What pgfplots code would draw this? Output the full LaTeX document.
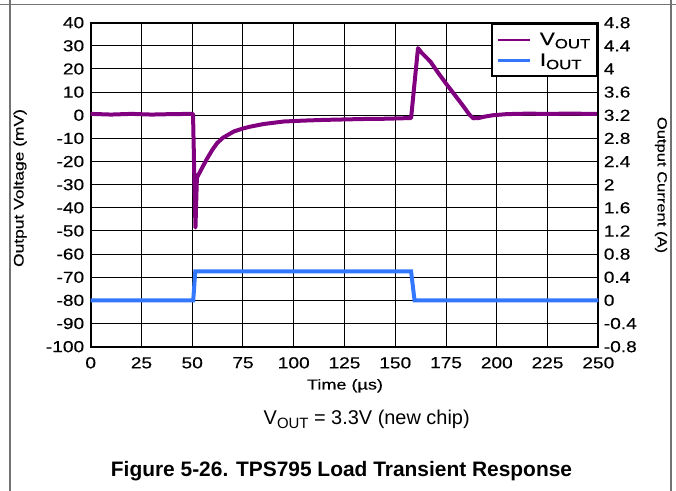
\documentclass[border=0pt]{standalone}
\usepackage{fontspec}
\setmainfont{Liberation Sans}
\newfontfamily\wide[FakeStretch=1.2, FakeBold=0.3]{Liberation Sans}
\newfontfamily\wider[FakeStretch=1.25, FakeBold=0.3]{Liberation Sans}
\usepackage{pgfplots}
\pgfplotsset{compat=1.18}

\definecolor{vpurple}{RGB}{128,0,128}
\definecolor{iblue}{RGB}{51,119,255}

\newcommand{\sub}[1]{\raisebox{-0.35ex}{\fontsize{13.5}{13.5}\selectfont #1}}

\pgfplotsset{
  common/.style={
    at={(90.7bp,144.3bp)}, anchor=south west,
    scale only axis, width=507.6bp, height=324bp,
    xmin=0, xmax=250,
    tick style={draw=none},
    axis line style={line width=2bp},
    tick label style={font=\wide\fontsize{16}{16}\selectfont},
    /pgf/number format/assume math mode=true,
  },
}

\begin{document}
\begin{tikzpicture}
  \path[use as bounding box] (0,0) rectangle (676bp,491bp);
  % outer frame of the figure box
  \draw[black!55, line width=1.5bp] (0,486.3bp) -- (676bp,486.3bp);
  \draw[black!55, line width=1.5bp] (10bp,491bp) -- (10bp,0);
  \draw[black!55, line width=1.5bp] (671bp,491bp) -- (671bp,0);

  \begin{axis}[common,
      ymin=-100, ymax=40,
      xtick={0,25,...,250}, ytick={-100,-90,...,40},
      xticklabel style={yshift=-7bp},
      yticklabel style={xshift=-3bp},
      grid=major, major grid style={black, line width=1bp},
    ]
    \addplot[vpurple, line width=4bp, line join=round] coordinates {
      (0,0.6) (10,0.3) (20,0.6) (30,0.3) (40,0.5) (50.4,0.6)
      (51.0,-25) (51.6,-48.5) (52.3,-27) (53.5,-25) (55,-22.5)
      (57.4,-18.6) (60,-14.8) (62.3,-12) (65,-9.8) (70.5,-7)
      (75,-5.7) (78.7,-4.9) (85,-3.8) (95,-2.7) (105,-2.3)
      (115,-2.0) (125,-1.8) (135,-1.6) (145,-1.5) (157.8,-1.2)
      (159.5,14) (161.2,29) (163,27) (167.3,23.2) (171,18.5)
      (175.5,13.1) (180,8) (183.7,3.7) (186.5,0.3) (188.4,-1.3)
      (191,-1.2) (194,-0.6) (198,0) (205,0.5) (215,0.7)
      (225,0.6) (235,0.7) (250,0.6)
    };
  \end{axis}

  \begin{axis}[common,
      ymin=-0.8, ymax=4.8,
      axis x line=none, axis y line*=right,
      ytick={-0.8,-0.4,0,0.4,0.8,1.2,1.6,2,2.4,2.8,3.2,3.6,4,4.4,4.8},
      yticklabel style={/pgf/number format/fixed, /pgf/number format/precision=1, xshift=2bp},
      legend style={at={(rel axis cs:1,1)}, anchor=north east,
        draw=black, line width=2bp, fill=white,
        font=\wider\fontsize{18}{18}\selectfont,
        row sep=3bp, inner xsep=5bp, inner ysep=7bp,
        /tikz/every odd column/.append style={column sep=7bp}},
      legend image code/.code={
        \draw[#1, line width=2.2bp] (0bp,0bp) -- (32bp,0bp);},
      legend cell align=left,
    ]
    \addlegendimage{vpurple}
    \addlegendentry{V\sub{OUT}}
    \addplot[iblue, line width=4bp] coordinates {
      (0,0) (25,0) (50.5,0) (51.5,0.5) (100,0.5) (157.8,0.5)
      (159.5,0) (200,0) (250,0)
    };
    \addlegendentry{I\sub{OUT}}
  \end{axis}

  \node[rotate=90, font=\wider\fontsize{14}{14}\selectfont] at (20bp,303bp) {Output Voltage (mV)};
  \node[rotate=-90, font=\wider\fontsize{13.3}{14}\selectfont] at (661bp,306bp) {Output Current (A)};
  \node[anchor=base, font=\wider\fontsize{14.5}{15}\selectfont] at (345bp,101.5bp) {Time (µs)};
  \node[anchor=base, font=\fontsize{20}{20}\selectfont] at (366.7bp,66.7bp)
    {V\raisebox{-0.4ex}{\fontsize{15}{15}\selectfont OUT} = 3.3V (new chip)};
  \node[anchor=base, font=\bfseries\fontsize{21}{21}\selectfont] at (341.5bp,14.3bp)
    {Figure 5-26. TPS795 Load Transient Response};
\end{tikzpicture}
\end{document}
